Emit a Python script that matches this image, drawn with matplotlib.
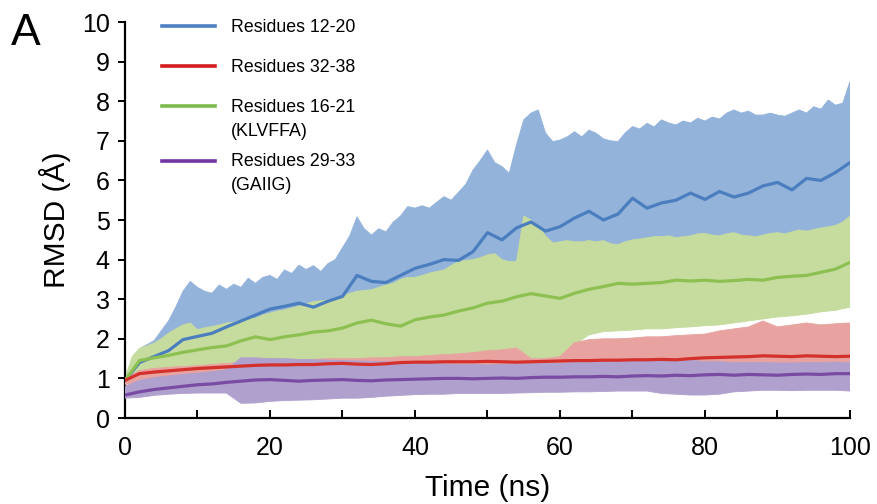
import numpy as np
import matplotlib
matplotlib.use("Agg")
import matplotlib.pyplot as plt
from matplotlib.ticker import MultipleLocator
from matplotlib.lines import Line2D

plt.rcParams['font.family'] = ['Liberation Sans', 'DejaVu Sans']

# ---- data ----
t1 = list(range(0, 101, 1))   # 1-ns grid for the upper edges of blue & green bands
t2 = list(range(0, 101, 2))   # 2-ns grid for everything else

labels = ["Residues 12-20", "Residues 32-38", "Residues 16-21\n(KLVFFA)", "Residues 29-33\n(GAIIG)"]

blue_mean = [0.95, 1.4, 1.55, 1.7, 1.98, 2.06, 2.14, 2.3, 2.45, 2.6, 2.75, 2.82, 2.9, 2.8, 2.95, 3.07,
             3.6, 3.45, 3.42, 3.6, 3.78, 3.88, 4.0, 3.98, 4.2, 4.68, 4.5, 4.8, 4.95, 4.72, 4.83, 5.05,
             5.22, 5.0, 5.15, 5.55, 5.3, 5.43, 5.5, 5.68, 5.52, 5.72, 5.58, 5.68, 5.86, 5.95, 5.76,
             6.05, 6.0, 6.2, 6.45]
blue_upper = [1.0, 1.5, 1.75, 1.85, 1.95, 2.2, 2.45, 2.8, 3.2, 3.45, 3.3, 3.2, 3.15, 3.36, 3.25, 3.38,
              3.3, 3.53, 3.4, 3.55, 3.6, 3.5, 3.74, 3.65, 3.86, 3.75, 3.85, 3.7, 3.9, 4.0, 4.3, 4.6,
              5.08, 4.78, 4.62, 4.78, 4.7, 4.95, 5.1, 5.34, 5.3, 5.36, 5.3, 5.45, 5.59, 5.5, 5.7, 5.9,
              6.26, 6.5, 6.77, 6.45, 6.35, 6.18, 6.9, 7.53, 7.7, 7.78, 7.2, 6.98, 7.02, 7.1, 7.23, 7.1,
              7.27, 7.19, 7.05, 7.0, 6.98, 7.2, 7.36, 7.3, 7.44, 7.35, 7.53, 7.45, 7.4, 7.5, 7.45, 7.57,
              7.5, 7.6, 7.55, 7.7, 7.78, 7.7, 7.75, 7.65, 7.65, 7.7, 7.65, 7.62, 7.7, 7.78, 7.7, 7.86,
              7.8, 8.03, 7.9, 7.95, 8.5]
blue_lower = [0.95, 1.25, 1.3, 1.4, 1.5, 1.55, 1.6, 1.7, 1.8, 1.9, 1.95, 2.0, 2.05, 2.1, 2.15, 2.2,
              2.3, 2.35, 2.4, 2.45, 2.5, 2.55, 2.6, 2.7, 2.8, 2.9, 2.95, 3.0, 3.1, 3.15, 3.2, 3.25,
              3.3, 3.35, 3.4, 3.45, 3.5, 3.55, 3.6, 3.65, 3.7, 3.75, 3.8, 3.85, 3.9, 3.95, 4.0, 4.05,
              4.1, 4.15, 4.2]

green_mean = [0.95, 1.45, 1.52, 1.58, 1.66, 1.72, 1.78, 1.82, 1.95, 2.05, 1.98, 2.05, 2.1, 2.17, 2.2,
              2.27, 2.4, 2.47, 2.38, 2.32, 2.48, 2.55, 2.6, 2.7, 2.78, 2.9, 2.95, 3.06, 3.14, 3.08,
              3.02, 3.15, 3.25, 3.32, 3.4, 3.38, 3.4, 3.42, 3.48, 3.46, 3.48, 3.45, 3.47, 3.5, 3.48,
              3.55, 3.58, 3.6, 3.68, 3.76, 3.93]
green_upper = [1.0, 1.55, 1.76, 1.82, 1.89, 2.0, 2.14, 2.25, 2.35, 2.4, 2.23, 2.28, 2.31, 2.35, 2.4,
               2.42, 2.48, 2.5, 2.52, 2.6, 2.65, 2.7, 2.73, 2.78, 2.82, 2.88, 2.94, 2.96, 2.98, 3.03,
               3.07, 3.15, 3.2, 3.22, 3.24, 3.3, 3.36, 3.4, 3.5, 3.55, 3.55, 3.6, 3.66, 3.7, 3.74,
               3.85, 3.95, 3.98, 4.0, 4.05, 4.12, 4.15, 4.0, 3.95, 3.95, 5.1, 5.0, 4.85, 4.6, 4.42,
               4.45, 4.48, 4.45, 4.45, 4.48, 4.45, 4.48, 4.4, 4.38, 4.45, 4.5, 4.52, 4.55, 4.58, 4.58,
               4.6, 4.55, 4.58, 4.6, 4.65, 4.66, 4.62, 4.6, 4.65, 4.68, 4.62, 4.6, 4.58, 4.62, 4.66,
               4.68, 4.65, 4.7, 4.75, 4.72, 4.76, 4.8, 4.83, 4.86, 4.95, 5.1]
green_lower = [0.9, 1.0, 1.05, 1.1, 1.15, 1.2, 1.2, 1.25, 1.25, 1.3, 1.3, 1.32, 1.35, 1.36, 1.38,
               1.4, 1.4, 1.42, 1.43, 1.44, 1.45, 1.46, 1.47, 1.48, 1.5, 1.6, 1.62, 1.6, 1.5, 1.5,
               1.52, 1.85, 2.1, 2.18, 2.2, 2.22, 2.25, 2.25, 2.28, 2.3, 2.33, 2.35, 2.4, 2.45, 2.5,
               2.55, 2.58, 2.62, 2.68, 2.72, 2.8]

red_mean = [0.95, 1.12, 1.16, 1.19, 1.22, 1.25, 1.27, 1.29, 1.31, 1.33, 1.34, 1.34, 1.35, 1.35, 1.37,
            1.38, 1.36, 1.35, 1.37, 1.4, 1.41, 1.41, 1.42, 1.42, 1.42, 1.43, 1.42, 1.41, 1.42, 1.43,
            1.44, 1.45, 1.45, 1.46, 1.46, 1.47, 1.47, 1.48, 1.47, 1.5, 1.52, 1.53, 1.54, 1.55, 1.57,
            1.56, 1.55, 1.57, 1.56, 1.55, 1.56]
red_upper = [1.0, 1.2, 1.25, 1.28, 1.3, 1.32, 1.35, 1.38, 1.4, 1.42, 1.45, 1.45, 1.47, 1.48, 1.5,
             1.5, 1.5, 1.52, 1.52, 1.55, 1.55, 1.58, 1.6, 1.62, 1.65, 1.7, 1.72, 1.77, 1.5, 1.5,
             1.55, 1.9, 1.98, 2.0, 2.0, 2.02, 2.05, 2.05, 2.08, 2.1, 2.12, 2.2, 2.25, 2.3, 2.45,
             2.3, 2.35, 2.4, 2.35, 2.38, 2.4]
red_lower = [0.85, 0.88, 0.9, 0.92, 0.94, 0.96, 0.98, 1.0, 1.0, 1.02, 1.02, 1.03, 1.04, 1.05, 1.05,
             1.06, 1.06, 1.06, 1.07, 1.08, 1.08, 1.08, 1.09, 1.09, 1.1, 1.1, 1.1, 1.1, 1.1, 1.11,
             1.12, 1.12, 1.13, 1.13, 1.14, 1.14, 1.15, 1.15, 1.16, 1.16, 1.17, 1.17, 1.18, 1.18, 1.19,
             1.19, 1.2, 1.2, 1.2, 1.2, 1.2]

purple_mean = [0.58, 0.66, 0.72, 0.76, 0.8, 0.84, 0.86, 0.9, 0.93, 0.96, 0.97, 0.95, 0.93, 0.95, 0.96,
               0.97, 0.95, 0.94, 0.96, 0.97, 0.98, 0.99, 1.0, 1.0, 0.99, 1.0, 1.01, 1.0, 1.02, 1.03,
               1.03, 1.04, 1.04, 1.05, 1.04, 1.06, 1.07, 1.06, 1.08, 1.07, 1.09, 1.1, 1.08, 1.1, 1.09,
               1.08, 1.1, 1.11, 1.1, 1.12, 1.12]
purple_upper = [0.8, 0.95, 1.02, 1.06, 1.1, 1.13, 1.17, 1.22, 1.52, 1.52, 1.5, 1.5, 1.48, 1.47, 1.46,
                1.45, 1.44, 1.43, 1.42, 1.4, 1.38, 1.37, 1.36, 1.35, 1.35, 1.34, 1.35, 1.36, 1.37,
                1.38, 1.38, 1.4, 1.4, 1.42, 1.42, 1.45, 1.45, 1.46, 1.46, 1.46, 1.42, 1.42, 1.4, 1.4,
                1.4, 1.39, 1.39, 1.4, 1.4, 1.41, 1.4]
purple_lower = [0.5, 0.52, 0.57, 0.6, 0.62, 0.63, 0.63, 0.63, 0.37, 0.38, 0.42, 0.44, 0.45, 0.46,
                0.48, 0.5, 0.5, 0.52, 0.55, 0.57, 0.59, 0.6, 0.6, 0.62, 0.62, 0.62, 0.62, 0.63, 0.64,
                0.65, 0.65, 0.66, 0.66, 0.67, 0.68, 0.68, 0.68, 0.62, 0.6, 0.58, 0.58, 0.6, 0.66, 0.68,
                0.7, 0.7, 0.69, 0.7, 0.7, 0.7, 0.68]

# ---- style ----
band_colors = ["#93b3da", "#e8a3a0", "#c6dc9e", "#b0a0cd"]
line_colors = ["#4a7ebf", "#d4302c", "#8cc152", "#7a4ba2"]
legend_colors = ["#4f80c4", "#d41c1c", "#7dba4c", "#7235a2"]

fig = plt.figure(figsize=(8.78, 5.04), dpi=100)
ax = fig.add_axes([125 / 878, 1 - 418 / 504, (850 - 125) / 878, (418 - 22) / 504])


def band(tu, up, tl, lo, color, z):
    xs = np.r_[np.asarray(tu, float), np.asarray(tl, float)[::-1]]
    ys = np.r_[np.asarray(up, float), np.asarray(lo, float)[::-1]]
    ax.fill(xs, ys, color=color, lw=0.6, edgecolor=color, zorder=z)


band(t1, blue_upper, t2, blue_lower, band_colors[0], 1)
band(t1, green_upper, t2, green_lower, band_colors[2], 2)
band(t2, red_upper, t2, red_lower, band_colors[1], 3)
band(t2, purple_upper, t2, purple_lower, band_colors[3], 4)

means = [blue_mean, red_mean, green_mean, purple_mean]
zs = [6, 7, 6.5, 8]
for m, c, z in zip(means, line_colors, zs):
    ax.plot(t2, m, color=c, lw=2.3, zorder=z)

ax.set_xlim(0, 100)
ax.set_ylim(0, 10)
for s in ["top", "right"]:
    ax.spines[s].set_visible(False)
for s in ["left", "bottom"]:
    ax.spines[s].set_linewidth(1.6)
ax.xaxis.set_major_locator(MultipleLocator(20))
ax.xaxis.set_minor_locator(MultipleLocator(10))
ax.yaxis.set_major_locator(MultipleLocator(1))
ax.tick_params(axis="x", which="both", direction="in", length=6, width=1.4, labelsize=18, pad=13)
ax.tick_params(axis="y", direction="out", length=5, width=1.4, labelsize=18, pad=6)
ax.set_xlabel("Time (ns)", fontsize=21.5, labelpad=10)
ax.set_ylabel("RMSD (Å)", fontsize=21.5, labelpad=8)

# legend (manual, to keep each swatch on the first text line)
W, H = 878, 504
leg_y = [26, 66, 106, 161]
for lab, c, y in zip(labels, legend_colors, leg_y):
    fig.add_artist(Line2D([162 / W, 215 / W], [1 - y / H, 1 - y / H], color=c, lw=2.6))
    for k, line in enumerate(lab.split("\n")):
        fig.text(231 / W, 1 - (y + 1 + 24 * k) / H, line, fontsize=12.8,
                 va="center", ha="left")

fig.text(0.012, 0.975, "A", fontsize=32, va="top", ha="left")

fig.savefig("out.png", dpi=100)
